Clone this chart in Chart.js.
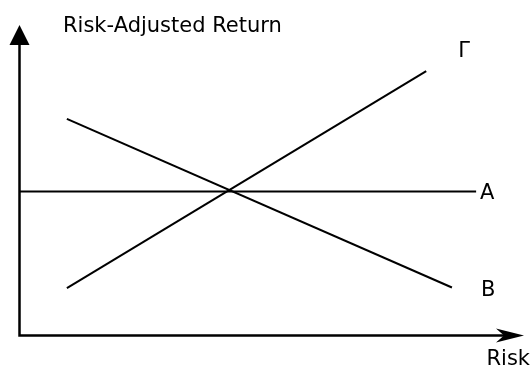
<!DOCTYPE html>
<html>
<head>
<meta charset="utf-8">
<script src="https://cdn.jsdelivr.net/npm/chart.js@4"></script>
<style>
  html, body { margin: 0; padding: 0; background: #fff; }
  #wrap { width: 531px; height: 370px; }
</style>
</head>
<body>
<div id="wrap"><canvas id="chart" width="531" height="370"></canvas></div>
<script>
const lineNames = ["A", "B", "Γ"];
const lineA = [{ x: 0, y: 46.5 }, { x: 90.5, y: 46.5 }];
const lineB = [{ x: 9.3, y: 69.8 }, { x: 85.7, y: 15.6 }];
const lineG = [{ x: 9.3, y: 15.4 }, { x: 80.6, y: 85.2 }];
const xTitle = "Risk";
const yTitle = "Risk-Adjusted Return";

const FONT = "'DejaVu Sans', Verdana, sans-serif";

// axes with arrowheads + end-of-line labels
const sketchPlugin = {
  id: "sketch",
  afterDatasetsDraw(chart) {
    const { ctx, chartArea: a } = chart;
    ctx.save();
    ctx.strokeStyle = "#000";
    ctx.fillStyle = "#000";
    ctx.lineWidth = 2.5;

    ctx.beginPath();
    ctx.moveTo(a.left - 0.5, a.top + 14);
    ctx.lineTo(a.left - 0.5, a.bottom - 0.5);
    ctx.lineTo(a.right - 10, a.bottom - 0.5);
    ctx.stroke();

    // y arrow
    ctx.beginPath();
    ctx.moveTo(a.left - 0.5, a.top);
    ctx.lineTo(a.left + 9.5, a.top + 20);
    ctx.lineTo(a.left - 10.5, a.top + 20);
    ctx.closePath();
    ctx.fill();

    // x arrow (notched)
    ctx.beginPath();
    ctx.moveTo(a.right, a.bottom - 0.5);
    ctx.lineTo(a.right - 28, a.bottom - 7.5);
    ctx.lineTo(a.right - 20, a.bottom - 0.5);
    ctx.lineTo(a.right - 28, a.bottom + 6.5);
    ctx.closePath();
    ctx.fill();

    ctx.font = "21px " + FONT;
    ctx.textBaseline = "alphabetic";
    ctx.textAlign = "left";
    ctx.fillText(yTitle, a.left + 43, 32);
    ctx.textAlign = "right";
    ctx.fillText(xTitle, chart.width - 1, 365);

    ctx.textAlign = "left";
    chart.data.datasets.forEach((ds, i) => {
      const pts = chart.getDatasetMeta(i).data;
      const end = pts[pts.length - 1];
      const off = ds.labelOffset;
      ctx.fillText(lineNames[i], end.x + off[0], end.y + off[1]);
    });
    ctx.restore();
  }
};

const lineStyle = {
  borderColor: "#000",
  borderWidth: 2,
  pointRadius: 0,
  fill: false,
  tension: 0
};

new Chart(document.getElementById("chart"), {
  type: "line",
  data: {
    datasets: [
      { ...lineStyle, label: lineNames[0], data: lineA, labelOffset: [4, 8] },
      { ...lineStyle, label: lineNames[1], data: lineB, labelOffset: [29, 9] },
      { ...lineStyle, label: lineNames[2], data: lineG, labelOffset: [32, -14] }
    ]
  },
  options: {
    responsive: false,
    animation: false,
    layout: { padding: { left: 20, right: 7, top: 25, bottom: 34 } },
    plugins: { legend: { display: false }, tooltip: { enabled: false } },
    scales: {
      x: { type: "linear", display: false, min: 0, max: 100 },
      y: { type: "linear", display: false, min: 0, max: 100 }
    }
  },
  plugins: [sketchPlugin]
});
</script>
</body>
</html>
